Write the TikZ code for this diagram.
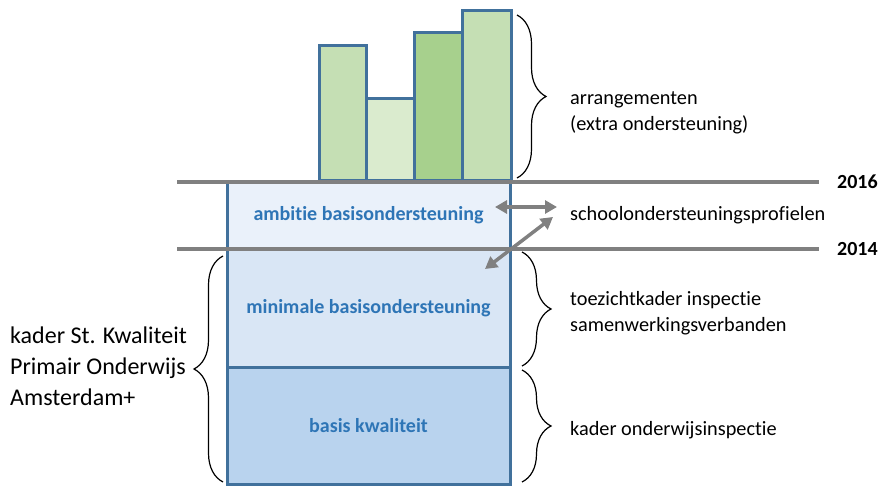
\documentclass[tikz,border=0pt]{standalone}
\usepackage{fontspec}
\setmainfont{Carlito}[Ligatures = NoCommon]
\usepackage{xcolor}
\usetikzlibrary{arrows.meta, decorations.pathreplacing, positioning}
\tikzset{> = { Triangle[length = 12pt, width = 13pt] }}
\definecolor{rand}{HTML}{41719C}
\definecolor{tekst}{HTML}{2E75B6}
\definecolor{lijn}{HTML}{808080}
\definecolor{laag1}{HTML}{B9D3EE}
\definecolor{laag2}{HTML}{D9E6F5}
\definecolor{laag3}{HTML}{EAF1FA}
\definecolor{groen1}{HTML}{C5DFB4}
\definecolor{groen2}{HTML}{DAEBCE}
\definecolor{groen3}{HTML}{A7D08D}
\tikzset{
	laag/.style = {draw = rand, line width = 3pt, minimum width = 283pt, inner sep = 0pt, text = tekst, font = \bfseries\fontsize{20}{24}\selectfont},
	staaf/.style = {draw = rand, line width = 3pt, inner sep = 0pt, anchor = south west},
	jaarlijn/.style = {draw = lijn, line width = 4pt},
	jaartal/.style = {inner sep = 0pt, font = \bfseries\fontsize{20}{24}\selectfont},
	accolade/.style = {decorate, decoration = {brace, amplitude = 29pt}, line width = 1.2pt},
	uitleg/.style = {anchor = west, align = left, inner sep = 0pt, font = \fontsize{20.3}{26}\selectfont},
	pijl/.style = {<->, draw = lijn, line width = 3.5pt}
}

\begin{document}
\begin{tikzpicture}[x = 1pt, y = -1pt]
	\useasboundingbox (0, 0) rectangle (879, 486);

	\node [staaf, fill = groen1, minimum width = 47pt, minimum height = 135pt] (staaf1) at (318, 182) {};
	\node [staaf, fill = groen2, minimum width = 48pt, minimum height = 82pt] (staaf2) at (365, 182) {};
	\node [staaf, fill = groen3, minimum width = 48pt, minimum height = 148pt] (staaf3) at (413, 182) {};
	\node [staaf, fill = groen1, minimum width = 49pt, minimum height = 170pt] (staaf4) at (461, 182) {};

	\node [laag, fill = laag3, minimum height = 67pt] (ambitie) at (368.5, 215.5) {ambitie basisondersteuning};
	\node [laag, fill = laag2, minimum height = 119pt] (minimaal) at (368.5, 308.5) {minimale basisondersteuning};
	\node [laag, fill = laag1, minimum height = 116pt] (basis) at (368.5, 426) {basis kwaliteit};

	\coordinate (l16a) at (177, 182);
	\coordinate (l16b) at (819, 182);
	\coordinate (l14a) at (177, 249);
	\coordinate (l14b) at (819, 249);
	\draw [jaarlijn] (l16a) -- (l16b);
	\draw [jaarlijn] (l14a) -- (l14b);
	\node [jaartal, right = 18pt of l16b] (j2016) {2016};
	\node [jaartal, right = 18pt of l14b] (j2014) {2014};

	\coordinate (p1a) at (495, 207);
	\coordinate (p1b) at (557, 207);
	\coordinate (p2a) at (485, 269);
	\coordinate (p2b) at (553, 217);
	\draw [pijl] (p1a) -- (p1b);
	\draw [pijl] (p2a) -- (p2b);

	\draw [accolade] (517, 15) -- (517, 178);
	\draw [accolade] (522, 252) -- (522, 366);
	\draw [accolade] (522, 370) -- (522, 482);
	\draw [accolade] (223, 482) -- (223, 256);

	\node [uitleg] (arrangement) at (570, 113) {arrangementen\\(extra ondersteuning)};
	\node [uitleg] (profielen) at (570, 215) {schoolondersteuningsprofielen};
	\node [uitleg] (toezicht) at (570, 313) {toezichtkader inspectie\\samenwerkingsverbanden};
	\node [uitleg] (inspectie) at (570, 430) {kader onderwijsinspectie};
	\node [uitleg, font = \fontsize{24}{31}\selectfont] (kader) at (10, 366) {kader St. Kwaliteit\\Primair Onderwijs\\Amsterdam+};
\end{tikzpicture}
\end{document}
